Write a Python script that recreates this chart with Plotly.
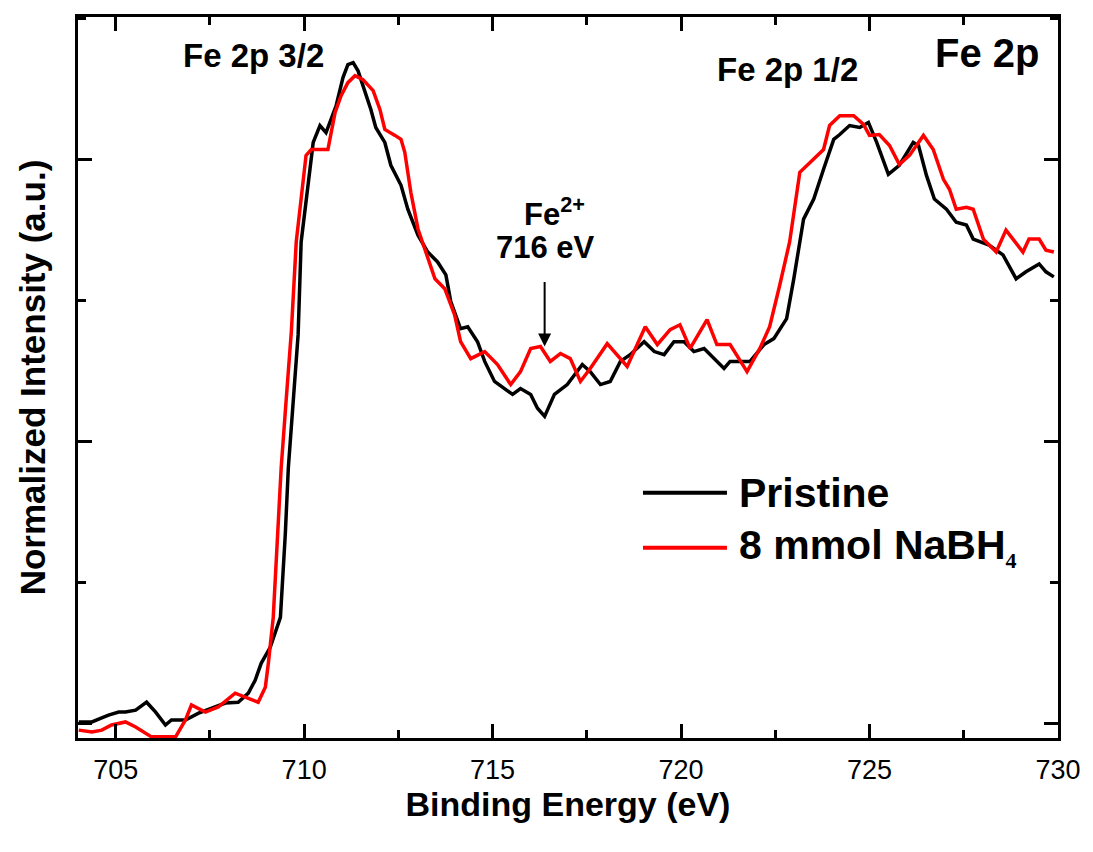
import plotly.graph_objects as go

# Binding energy (eV) and normalized intensity (a.u.)
pristine_be = [704.02, 704.37, 704.63, 704.81, 705.08, 705.26, 705.53, 705.82, 706.06, 706.32,
               706.48, 706.85, 707.20, 707.54, 707.91, 708.25, 708.52, 708.70, 708.86, 709.10,
               709.37, 709.50, 709.58, 709.71, 709.84, 709.92, 710.11, 710.24, 710.42, 710.58,
               710.85, 711.03, 711.16, 711.30, 711.43, 711.56, 711.77, 711.90, 712.14, 712.30,
               712.57, 712.75, 713.02, 713.28, 713.54, 713.76, 713.89, 714.15, 714.34, 714.60,
               714.79, 715.05, 715.32, 715.53, 715.74, 716.01, 716.19, 716.38, 716.64, 716.98,
               717.38, 717.59, 717.86, 718.12, 718.39, 718.65, 719.02, 719.29, 719.55, 719.81,
               720.08, 720.34, 720.61, 720.87, 721.14, 721.30, 721.56, 721.83, 722.20, 722.46,
               722.80, 722.99, 723.25, 723.52, 723.78, 724.05, 724.21, 724.47, 724.74, 724.97,
               725.19, 725.50, 725.79, 726.16, 726.30, 726.51, 726.72, 727.04, 727.30, 727.57,
               727.75, 728.17, 728.54, 728.89, 729.15, 729.50, 729.68, 729.89]
pristine_int = [0.004, 0.004, 0.018, 0.028, 0.039, 0.039, 0.046, 0.074, 0.039, -0.007,
                0.011, 0.011, 0.035, 0.053, 0.071, 0.074, 0.106, 0.152, 0.212, 0.269,
                0.375, 0.671, 0.905, 1.141, 1.378, 1.707, 1.919, 2.060, 2.120, 2.095,
                2.191, 2.290, 2.336, 2.343, 2.314, 2.261, 2.177, 2.113, 2.060, 1.979,
                1.908, 1.823, 1.731, 1.671, 1.636, 1.590, 1.495, 1.399, 1.406, 1.353,
                1.283, 1.212, 1.187, 1.166, 1.187, 1.166, 1.117, 1.088, 1.166, 1.201,
                1.272, 1.247, 1.201, 1.212, 1.283, 1.307, 1.353, 1.318, 1.307, 1.353,
                1.353, 1.318, 1.329, 1.293, 1.258, 1.283, 1.283, 1.283, 1.343, 1.364,
                1.435, 1.576, 1.788, 1.859, 1.965, 2.071, 2.088, 2.120, 2.113, 2.131,
                2.060, 1.947, 1.979, 2.060, 2.049, 1.943, 1.859, 1.823, 1.777, 1.767,
                1.717, 1.696, 1.661, 1.576, 1.601, 1.629, 1.601, 1.583]

nabh4_be = [704.02, 704.37, 704.63, 704.89, 705.26, 705.53, 705.95, 706.59, 706.85, 707.01,
            707.38, 707.72, 708.17, 708.44, 708.78, 708.97, 709.05, 709.18, 709.31, 709.39,
            709.52, 709.66, 709.79, 709.92, 710.05, 710.19, 710.45, 710.63, 710.82, 710.98,
            711.16, 711.35, 711.56, 711.83, 712.01, 712.14, 712.41, 712.57, 712.67, 712.83,
            713.02, 713.28, 713.47, 713.73, 713.99, 714.15, 714.42, 714.79, 715.13, 715.48,
            715.74, 716.01, 716.27, 716.53, 716.80, 717.06, 717.33, 717.59, 718.04, 718.57,
            718.84, 719.05, 719.37, 719.71, 719.97, 720.24, 720.69, 720.95, 721.30, 721.75,
            722.09, 722.35, 722.62, 722.88, 723.15, 723.41, 723.78, 723.94, 724.21, 724.58,
            724.84, 725.00, 725.26, 725.53, 725.79, 726.06, 726.43, 726.69, 726.96, 727.12,
            727.30, 727.57, 727.75, 728.02, 728.36, 728.62, 729.07, 729.23, 729.50, 729.68,
            729.89]
nabh4_int = [-0.025, -0.032, -0.025, -0.007, 0.004, -0.014, -0.049, -0.049, 0.011, 0.064,
             0.039, 0.057, 0.106, 0.092, 0.074, 0.127, 0.212, 0.375, 0.671, 0.905,
             1.141, 1.389, 1.707, 1.873, 2.014, 2.035, 2.035, 2.035, 2.166, 2.226,
             2.272, 2.297, 2.283, 2.244, 2.177, 2.106, 2.085, 2.071, 2.025, 1.883,
             1.753, 1.647, 1.576, 1.541, 1.449, 1.353, 1.293, 1.318, 1.272, 1.201,
             1.247, 1.329, 1.336, 1.283, 1.311, 1.293, 1.212, 1.258, 1.346, 1.265,
             1.343, 1.406, 1.343, 1.396, 1.413, 1.329, 1.431, 1.343, 1.343, 1.247,
             1.329, 1.406, 1.555, 1.707, 1.954, 1.989, 2.035, 2.120, 2.155, 2.155,
             2.124, 2.085, 2.088, 2.049, 1.982, 2.014, 2.085, 2.035, 1.929, 1.894,
             1.823, 1.830, 1.823, 1.717, 1.671, 1.749, 1.671, 1.717, 1.717, 1.678,
             1.671]

series_names = ["Pristine", "8 mmol NaBH<sub><span style='font-family:Liberation Serif;font-size:22px'>4</span></sub>"]
series_colors = ["#000000", "#ff0000"]
x_ticks = [705, 710, 715, 720, 725, 730]

FONT = "Liberation Sans, Arial, sans-serif"

fig = go.Figure()
for be, inten, name, col in [(pristine_be, pristine_int, series_names[0], series_colors[0]),
                             (nabh4_be, nabh4_int, series_names[1], series_colors[1])]:
    fig.add_trace(go.Scatter(x=be, y=inten, mode="lines", name=name,
                             line=dict(color=col, width=3.5), showlegend=False))

# manual legend (line samples + labels)
leg_y = [0.340, 0.264]
for yy, col, name in zip(leg_y, series_colors, series_names):
    fig.add_shape(type="line", xref="paper", yref="paper", x0=0.5765, x1=0.6622, y0=yy, y1=yy,
                  line=dict(color=col, width=4))
    fig.add_annotation(xref="paper", yref="paper", x=0.672, y=yy, text="<b>" + name + "</b>",
                       showarrow=False, xanchor="left", yanchor="middle",
                       font=dict(family=FONT, size=41, color="black"))

ann_font = dict(family=FONT, size=31, color="black")
fig.add_annotation(x=708.65, y=2.367, text="<b>Fe 2p 3/2</b>", showarrow=False,
                   font=dict(family=FONT, size=33, color="black"))
fig.add_annotation(x=722.83, y=2.318, text="<b>Fe 2p 1/2</b>", showarrow=False,
                   font=dict(family=FONT, size=33, color="black"))
fig.add_annotation(x=728.12, y=2.378, text="<b>Fe 2p</b>", showarrow=False,
                   font=dict(family=FONT, size=40, color="black"))
fig.add_annotation(x=716.64, y=1.813, text="<b>Fe<sup>2+</sup></b>", showarrow=False, font=ann_font)
fig.add_annotation(x=716.40, y=1.689, text="<b>716 eV</b>", showarrow=False, font=ann_font)
fig.add_annotation(x=716.38, y=1.336, text="", showarrow=True, ax=0, ay=-66,
                   arrowhead=2, arrowsize=1.3, arrowwidth=2, arrowcolor="black")

fig.update_layout(
    width=1085, height=844,
    margin=dict(l=70, r=35, t=6, b=114),
    paper_bgcolor="white", plot_bgcolor="white",
    font=dict(family=FONT, color="black"),
)
fig.update_xaxes(
    range=[704, 730], tickvals=x_ticks, ticks="inside", ticklen=14, tickwidth=2.5,
    tickcolor="black", showline=True, linewidth=3, linecolor="black", mirror="ticks",
    showgrid=False, zeroline=False, tickfont=dict(family=FONT, size=27, color="black"),
    ticklabelstandoff=6,
    minor=dict(dtick=2.5, tick0=705, ticks="inside", ticklen=8, tickwidth=2.5, tickcolor="black", showgrid=False),
    title=dict(text="<b>Binding Energy (eV)</b>", font=dict(family=FONT, size=34, color="black"), standoff=4),
)
fig.update_yaxes(
    range=[-0.053, 2.505], tick0=0, dtick=1, ticks="inside", ticklen=14, tickwidth=2.5,
    tickcolor="black", showline=True, linewidth=3, linecolor="black", mirror="ticks",
    showgrid=False, zeroline=False, showticklabels=False,
    minor=dict(dtick=0.5, tick0=0, ticks="inside", ticklen=8, tickwidth=2.5, tickcolor="black", showgrid=False),
    title=dict(text="<b>Normalized Intensity (a.u.)</b>", font=dict(family=FONT, size=35, color="black"), standoff=19),
)

fig.write_html("out.html")
